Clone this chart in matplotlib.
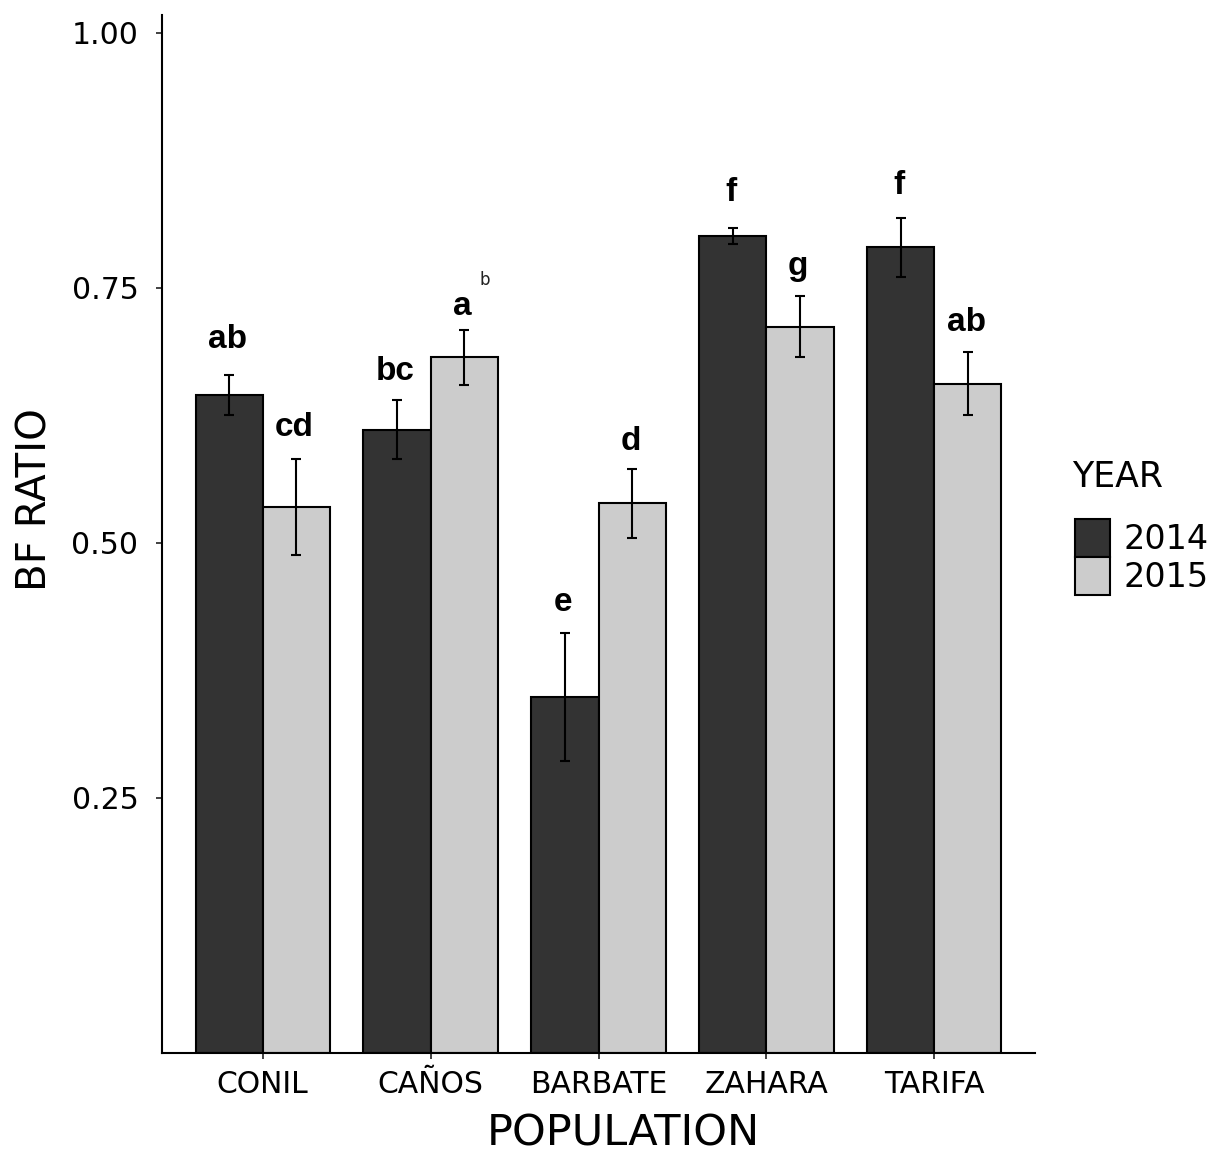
import matplotlib
matplotlib.use("Agg")
import matplotlib.pyplot as plt
from matplotlib.patches import Patch
import numpy as np

populations = ["CONIL", "CAÑOS", "BARBATE", "ZAHARA", "TARIFA"]
years = ["2014", "2015"]
mean_2014 = [0.645, 0.611, 0.349, 0.801, 0.790]
mean_2015 = [0.535, 0.682, 0.539, 0.712, 0.656]
err_2014 = [0.020, 0.029, 0.063, 0.008, 0.029]
err_2015 = [0.047, 0.027, 0.034, 0.030, 0.031]
letters_2014 = ["ab", "bc", "e", "f", "f"]
letters_2015 = ["cd", "a", "d", "g", "ab"]
letter_y_2014 = [0.691, 0.660, 0.433, 0.835, 0.842]
letter_y_2015 = [0.605, 0.7235, 0.591, 0.763, 0.708]
colors = ["#333333", "#cccccc"]
yticks = [0.25, 0.50, 0.75, 1.00]

W, H = 1218, 1156
fig = plt.figure(figsize=(W / 100, H / 100), dpi=100)
ax = fig.add_axes([162 / W, 1 - 1053 / H, (1035 - 162) / W, (1053 - 15) / H])

x = np.arange(1, len(populations) + 1)
bw = 0.4
means = [mean_2014, mean_2015]
errs = [err_2014, err_2015]
letters = [letters_2014, letters_2015]
letter_ys = [letter_y_2014, letter_y_2015]
for i in range(2):
    xs = x + (i - 0.5) * bw
    ax.bar(xs, means[i], width=bw, color=colors[i], edgecolor="black",
           linewidth=1.5, zorder=2)
    ax.errorbar(xs, means[i], yerr=errs[i], fmt="none", ecolor="black",
                elinewidth=1.5, capsize=3.6, capthick=1.5, zorder=3)
    for xi, lab, ly in zip(xs, letters[i], letter_ys[i]):
        ax.text(xi - 0.01, ly, lab, ha="center", va="baseline",
                fontsize=24, fontweight="bold", family="Liberation Sans")

# small stray label fragment visible near CAÑOS 2015
ax.text(2 + 0.5 * bw + 0.09, 0.753, "b", ha="left", va="baseline",
        fontsize=12, color="#222222", clip_on=False)

ax.set_xlim(0.4, len(populations) + 0.6)
ax.set_ylim(0, 1.0176)
ax.set_yticks(yticks)
ax.set_yticklabels([f"{v:.2f}" for v in yticks])
ax.set_xticks(x)
ax.set_xticklabels(populations)
ax.tick_params(axis="both", labelsize=21.5, colors="#333333", labelcolor="black",
               length=4, width=1.3)
ax.tick_params(axis="y", pad=13)
ax.tick_params(axis="x", pad=8)
for s in ["top", "right"]:
    ax.spines[s].set_visible(False)
for s in ["left", "bottom"]:
    ax.spines[s].set_linewidth(1.5)
ax.set_xlabel("POPULATION", fontsize=31)
ax.xaxis.set_label_coords((623 - 162) / (1035 - 162), -(1155 - 1053) / (1053 - 15))
ax.xaxis.label.set_va("bottom")
ax.set_ylabel("BF RATIO", fontsize=29)
ax.yaxis.set_label_coords(-(162 - 15) / (1035 - 162), (1053 - 500) / (1053 - 15))
ax.yaxis.label.set_va("top")

fig.text(1072 / W, 1 - 487 / H, "YEAR", fontsize=25, ha="left", va="baseline")
handles = [Patch(facecolor=c, edgecolor="black", linewidth=1.5) for c in colors]
leg = fig.legend(handles, years, loc="upper left",
                 bbox_to_anchor=(1075 / W, 1 - 519 / H), frameon=False, fontsize=24,
                 handlelength=1.05, handleheight=1.38, borderpad=0,
                 labelspacing=0.0, handletextpad=0.4, borderaxespad=0)

fig.savefig("out.png", dpi=100)
